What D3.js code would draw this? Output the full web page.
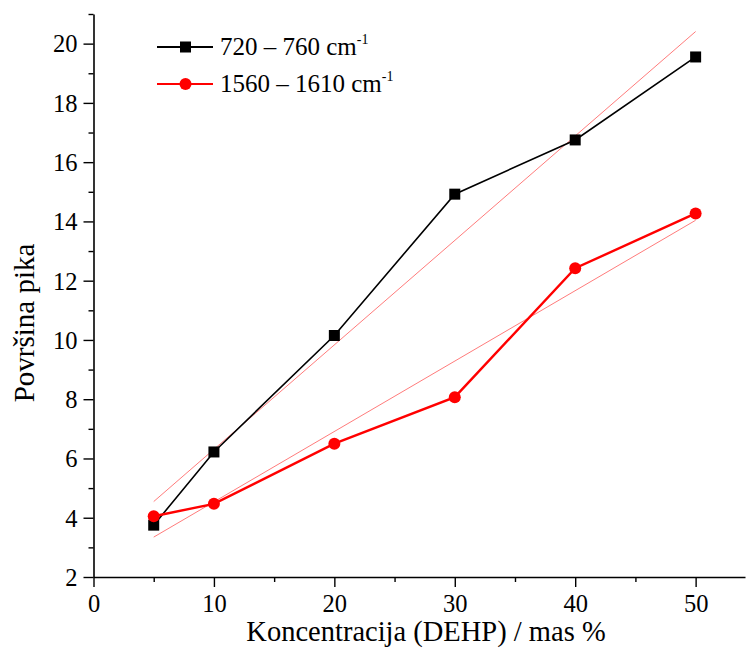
<!DOCTYPE html>
<meta charset="utf-8">
<svg width="747" height="653"></svg>
<script src="https://cdn.jsdelivr.net/npm/d3@7"></script>
<script>
    // measured concentrations and peak areas
    var conc = [5, 10, 20, 30, 40, 50];
    var area720 = [3.75, 6.22, 10.15, 14.92, 16.75, 19.55];
    var area1560 = [4.05, 4.47, 6.5, 8.07, 12.42, 14.27];
    var seriesNames = ["720 – 760 cm", "1560 – 1610 cm"];

    var serif = "'Liberation Serif', Tinos, 'Times New Roman', serif";
    d3.select("body").style("margin", "0").style("background", "#fff");
    var svg = d3.select("svg").style("display", "block");

    var x = d3.scaleLinear().domain([0, 54.1]).range([93.5, 745]);
    var y = d3.scaleLinear().domain([2, 21]).range([577, 14]);

    // axes: major ticks labelled, minor ticks in between
    var gx = svg.append("g")
        .attr("transform", "translate(0,577)")
        .call(d3.axisBottom(x).tickValues(d3.range(0, 55, 5)).tickSize(10)
            .tickFormat(function(d) { return d % 10 == 0 ? d : ""; }).tickSizeOuter(0));
    gx.selectAll("text").attr("y", 35).attr("dy", null);

    var gy = svg.append("g")
        .attr("transform", "translate(93.5,0)")
        .call(d3.axisLeft(y).tickValues(d3.range(2, 22, 1)).tickSize(10)
            .tickFormat(function(d) { return d % 2 == 0 ? d : ""; }).tickSizeOuter(0));
    gy.selectAll("text").attr("x", -16).attr("dy", "0.34em");

    [gx, gy].forEach(function(g) {
        g.attr("font-family", null).attr("font-size", null);
        g.selectAll("text").attr("fill", "#000")
            .style("font-family", serif).style("font-size", "24.5px");
        g.select(".domain").attr("stroke", "#000").attr("stroke-width", 1.6);
        g.selectAll(".tick line").attr("stroke", "#000").attr("stroke-width", 1.4);
        g.selectAll(".tick").filter(function(d) { return d3.select(this).select("text").text() == ""; })
            .select("line").attr(g === gx ? "y2" : "x2", g === gx ? 5 : -5);
    });

    svg.append("text")
        .attr("x", 426).attr("y", 641)
        .attr("text-anchor", "middle")
        .style("font-family", serif).style("font-size", "28.5px")
        .text("Koncentracija (DEHP) / mas %");

    svg.append("text")
        .attr("transform", "translate(34,323) rotate(-90)")
        .attr("text-anchor", "middle")
        .style("font-family", serif).style("font-size", "29px")
        .text("Površina pika");

    // least-squares fit lines
    function fit(xs, ys) {
        var mx = d3.mean(xs), my = d3.mean(ys), sxy = 0, sxx = 0;
        for (var i = 0; i < xs.length; i++) {
            sxy += (xs[i] - mx) * (ys[i] - my);
            sxx += (xs[i] - mx) * (xs[i] - mx);
        }
        var b = sxy / sxx;
        return function(v) { return my + b * (v - mx); };
    }

    [area720, area1560].forEach(function(ys) {
        var f = fit(conc, ys);
        var ends = [d3.min(conc), d3.max(conc)];
        svg.append("line")
            .attr("x1", x(ends[0])).attr("y1", y(f(ends[0])))
            .attr("x2", x(ends[1])).attr("y2", y(f(ends[1])))
            .attr("stroke", "#ff3030").attr("stroke-width", 0.8)
            .attr("stroke-opacity", 0.8);
    });

    var line = d3.line()
        .x(function(d, i) { return x(conc[i]); })
        .y(function(d) { return y(d); });

    svg.append("path")
        .datum(area720)
        .attr("fill", "none").attr("stroke", "#000").attr("stroke-width", 1.6)
        .attr("d", line);

    svg.append("path")
        .datum(area1560)
        .attr("fill", "none").attr("stroke", "#ff0000").attr("stroke-width", 2.4)
        .attr("d", line);

    svg.selectAll(".sq")
        .data(area720)
        .enter().append("rect")
        .attr("x", function(d, i) { return x(conc[i]) - 5.5; })
        .attr("y", function(d) { return y(d) - 5.5; })
        .attr("width", 11).attr("height", 11)
        .attr("fill", "#000");

    svg.selectAll(".dot")
        .data(area1560)
        .enter().append("circle")
        .attr("cx", function(d, i) { return x(conc[i]); })
        .attr("cy", function(d) { return y(d); })
        .attr("r", 6)
        .attr("fill", "#ff0000");

    // legend
    var legend = [
        { label: seriesNames[0], color: "#000", shape: "sq", ly: 47 },
        { label: seriesNames[1], color: "#ff0000", shape: "dot", ly: 84 }
    ];
    legend.forEach(function(l) {
        svg.append("line")
            .attr("x1", 157).attr("x2", 213).attr("y1", l.ly).attr("y2", l.ly)
            .attr("stroke", l.color).attr("stroke-width", 2);
        if (l.shape == "sq") {
            svg.append("rect").attr("x", 180).attr("y", l.ly - 5.5)
                .attr("width", 11).attr("height", 11).attr("fill", l.color);
        } else {
            svg.append("circle").attr("cx", 185.5).attr("cy", l.ly).attr("r", 6).attr("fill", l.color);
        }
        var t = svg.append("text")
            .attr("x", 220).attr("y", l.ly + 8)
            .style("font-family", serif).style("font-size", "25px")
            .text(l.label);
        t.append("tspan").attr("dy", -11).style("font-size", "14px").text("-1");
    });
</script>
